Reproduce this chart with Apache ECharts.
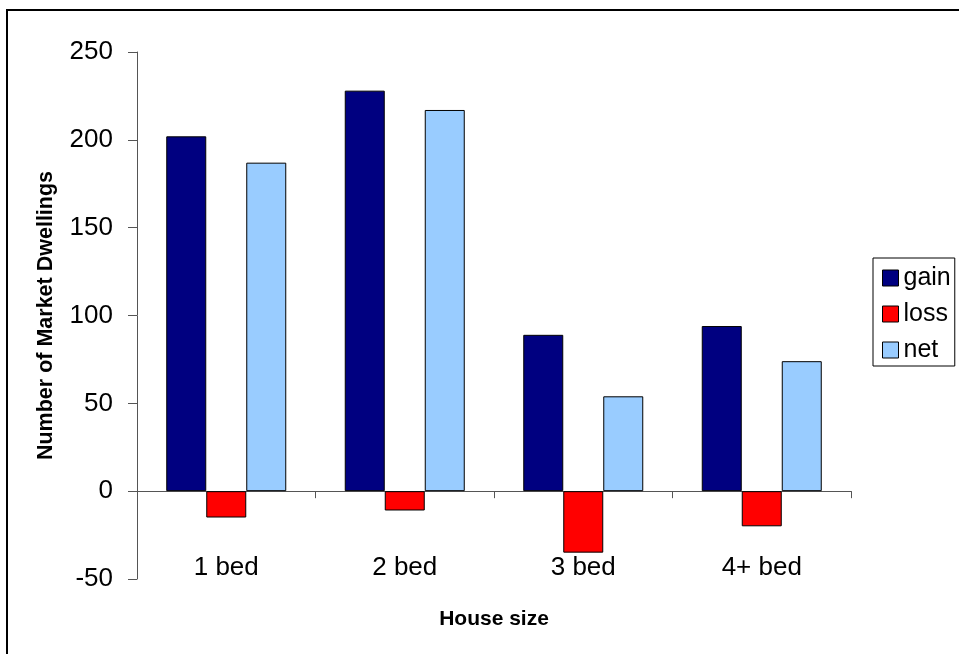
<!DOCTYPE html>
<html>
<head>
<meta charset="utf-8">
<script src="https://cdn.jsdelivr.net/npm/echarts@6/dist/echarts.min.js"></script>
<style>
html,body{margin:0;padding:0;background:#fff;}
#c{width:959px;height:654px;}
</style>
</head>
<body>
<div id="c"></div>
<script>
var categories = ['1 bed', '2 bed', '3 bed', '4+ bed'];
var gain = [202, 228, 89, 94];
var loss = [-15, -11, -35, -20];
var net = [187, 217, 54, 74];
var yTicks = [-50, 0, 50, 100, 150, 200, 250];

var chart = echarts.init(document.getElementById('c'), null, {renderer: 'canvas'});
var font = 'Liberation Sans, Arial, sans-serif';
var barStyle = function (c) { return {color: c, borderColor: '#000', borderWidth: 1}; };
chart.setOption({
  animation: false,
  backgroundColor: '#fff',
  graphic: [{
    type: 'rect', z: -1,
    shape: {x: 7, y: 10, width: 2000, height: 2000},
    style: {fill: 'none', stroke: '#000', lineWidth: 2}
  }],
  grid: {left: 137, right: 108, top: 52, bottom: 75, containLabel: false, outerBoundsMode: 'none'},
  legend: {
    orient: 'vertical', left: 873, top: 258,
    itemWidth: 16, itemHeight: 16, itemGap: 8,
    padding: [6, 4, 2, 9],
    borderColor: '#000', borderWidth: 1,
    icon: 'rect',
    textStyle: {fontFamily: font, fontSize: 25, color: '#000', lineHeight: 28},
    data: [
      {name: 'gain', itemStyle: {borderColor: '#000', borderWidth: 1}},
      {name: 'loss', itemStyle: {borderColor: '#000', borderWidth: 1}},
      {name: 'net', itemStyle: {borderColor: '#000', borderWidth: 1}}
    ]
  },
  xAxis: {
    type: 'category', data: categories,
    name: 'House size', nameLocation: 'middle', nameGap: 30, nameMoveOverlap: false,
    nameTextStyle: {fontFamily: font, fontSize: 21, fontWeight: 'bold', color: '#000'},
    axisLine: {onZero: true, lineStyle: {color: '#555', width: 1}},
    axisTick: {show: true, length: 7, lineStyle: {color: '#555'}},
    axisLabel: {margin: -24, fontFamily: font, fontSize: 26, color: '#000'},
    splitLine: {show: false}
  },
  yAxis: {
    type: 'value', min: -50, max: 250, interval: 50,
    name: 'Number of Market Dwellings', nameLocation: 'middle', nameGap: 80,
    nameTextStyle: {fontFamily: font, fontSize: 21.5, fontWeight: 'bold', color: '#000'},
    axisLine: {show: true, lineStyle: {color: '#555', width: 1}},
    axisTick: {show: true, length: 9, lineStyle: {color: '#555'}},
    axisLabel: {margin: 24, fontFamily: font, fontSize: 26, color: '#000',
      formatter: function (v) { return yTicks.indexOf(v) >= 0 ? String(v) : ''; }},
    splitLine: {show: false}
  },
  series: [
    {name: 'gain', type: 'bar', data: gain, barWidth: 40, barGap: '0%', itemStyle: barStyle('#000080')},
    {name: 'loss', type: 'bar', data: loss, barWidth: 40, barGap: '0%', itemStyle: barStyle('#FF0000')},
    {name: 'net', type: 'bar', data: net, barWidth: 40, barGap: '0%', itemStyle: barStyle('#99CCFF')}
  ]
});
</script>
</body>
</html>
